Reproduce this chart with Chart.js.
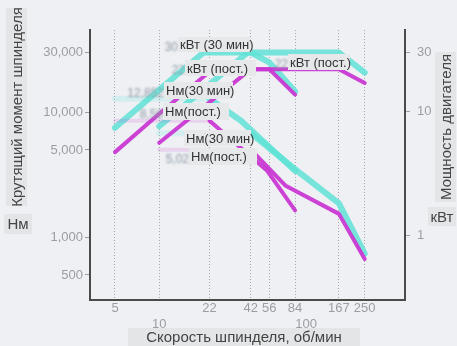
<!DOCTYPE html>
<html>
<head>
<meta charset="utf-8">
<script src="https://cdn.jsdelivr.net/npm/chart.js@4.4.1/dist/chart.umd.min.js"></script>
<style>
  html, body { margin: 0; padding: 0; background: #eef0f3; }
  #wrap { width: 457px; height: 346px; }
</style>
</head>
<body>
<div id="wrap"><canvas id="chart" width="457" height="346"></canvas></div>
<script>
// Axis ticks
const speedTicks = [5, 10, 22, 42, 56, 84, 100, 167, 250];   // об/мин
const torqueTicks = [500, 1000, 5000, 10000, 30000];         // Нм
const powerTicks = [1, 10, 30];                              // кВт

// Torque curves (Нм) against spindle speed (об/мин)
const lowTorque30Speed = [5, 22, 36, 84];
const lowTorque30 = [12852, 12852, 8560, 3400];
const lowTorqueContSpeed = [5, 22, 54, 84];
const lowTorqueCont = [8560, 8560, 3430, 1640];
const highTorque30Speed = [10, 42, 86, 167, 250];
const highTorque30 = [6800, 6800, 3430, 1870, 740];
const highTorqueContSpeed = [10, 42, 72, 167, 250];
const highTorqueCont = [5020, 5020, 2600, 1540, 670];

// Motor power curves (кВт) against spindle speed (об/мин)
const lowPower30Speed = [5, 10, 20, 42, 56, 84];
const lowPower30 = [7.4, 15, 30, 30, 25, 14.5];
const lowPowerContSpeed = [5, 10, 23, 56, 84];
const lowPowerCont = [4.7, 9.6, 22, 22, 13.7];
const highPower30Speed = [10, 40, 167, 250];
const highPower30 = [7.6, 30, 30, 20.6];
const highPowerContSpeed = [10, 42, 167, 250];
const highPowerCont = [5.6, 22, 22, 17];

const FONT = "'Liberation Sans', Arial, sans-serif";
const CYAN = 'rgba(96, 226, 214, 0.85)';
const CYAN_FAINT = 'rgba(96, 226, 214, 0.18)';
const MAGENTA = 'rgba(200, 56, 210, 0.95)';
const MAGENTA_FAINT = 'rgba(200, 56, 210, 0.15)';

const pts = (xs, ys) => xs.map((x, i) => ({ x, y: ys[i] }));

// Torque curves start with a pale constant-torque segment
function curve(xs, ys, axis, color, faintColor) {
  const cyan = color === CYAN;
  return {
    data: pts(xs, ys),
    yAxisID: axis,
    borderColor: color,
    borderWidth: cyan ? 6 : 4,
    order: cyan ? 2 : 1,
    segment: faintColor ? { borderColor: c => c.p0DataIndex === 0 ? faintColor : color } : undefined
  };
}

const datasets = [
  curve(lowPower30Speed, lowPower30, 'y2', CYAN),
  curve(highPower30Speed, highPower30, 'y2', CYAN),
  curve(lowTorque30Speed, lowTorque30, 'y', CYAN, CYAN_FAINT),
  curve(highTorque30Speed, highTorque30, 'y', CYAN, CYAN_FAINT),
  curve(lowPowerContSpeed, lowPowerCont, 'y2', MAGENTA),
  curve(highPowerContSpeed, highPowerCont, 'y2', MAGENTA),
  curve(lowTorqueContSpeed, lowTorqueCont, 'y', MAGENTA, MAGENTA_FAINT),
  curve(highTorqueContSpeed, highTorqueCont, 'y', MAGENTA, MAGENTA_FAINT)
];

// Callout labels inside the plot
const notes = [
  { x: 178, y: 37, w: 74, h: 15, text: 'кВт (30 мин)', pre: '30' },
  { x: 185, y: 60, w: 71, h: 16, text: 'кВт (пост.)', pre: '22' },
  { x: 164, y: 82, w: 69, h: 17, text: 'Нм(30 мин)', pre: '12,852' },
  { x: 163, y: 103, w: 66, h: 17, text: 'Нм(пост.)', pre: '8,56' },
  { x: 288, y: 54, w: 62, h: 16, text: 'кВт (пост.)', pre: '22' },
  { x: 184, y: 130, w: 67, h: 16, text: 'Нм(30 мин)', pre: '' },
  { x: 189, y: 148, w: 68, h: 17, text: 'Нм(пост.)', pre: '5,02' }
];

// Axis captions on grey plates
const captions = [
  { x: 6, y: 8, w: 21, h: 198, text: 'Крутящий момент шпинделя', rot: true },
  { x: 4, y: 214, w: 28, h: 20, text: 'Нм' },
  { x: 435, y: 52, w: 21, h: 150, text: 'Мощность двигателя', rot: true },
  { x: 428, y: 207, w: 28, h: 19, text: 'кВт' },
  { x: 128, y: 328, w: 232, h: 18, text: 'Скорость шпинделя, об/мин' }
];

// Soft edges on the curves
const softLines = {
  id: 'softLines',
  beforeDatasetsDraw(chart) { chart.ctx.save(); chart.ctx.filter = 'blur(0.7px)'; },
  afterDatasetsDraw(chart) { chart.ctx.restore(); }
};

const annotate = {
  id: 'annotate',
  afterDraw(chart) {
    const ctx = chart.ctx;
    ctx.save();
    ctx.textBaseline = 'middle';
    for (const n of notes) {
      if (n.pre) {
        ctx.save();
        ctx.filter = 'blur(0.8px)';
        ctx.fillStyle = '#8f9aa6';
        ctx.font = '12px ' + FONT;
        ctx.textAlign = 'right';
        ctx.fillText(n.pre, n.x, n.y + n.h / 2 + 3);
        ctx.restore();
      }
      ctx.fillStyle = '#e7e8ea';
      ctx.fillRect(n.x, n.y, n.w, n.h);
      ctx.fillStyle = '#333';
      ctx.font = '13px ' + FONT;
      ctx.textAlign = 'left';
      ctx.fillText(n.text, n.x + 2, n.y + n.h / 2 + 1);
    }
    for (const c of captions) {
      ctx.fillStyle = '#e4e5e7';
      ctx.fillRect(c.x, c.y, c.w, c.h);
      ctx.fillStyle = '#444';
      ctx.font = '15px ' + FONT;
      ctx.textAlign = 'center';
      if (c.rot) {
        ctx.save();
        ctx.translate(c.x + c.w / 2 + 1, c.y + c.h / 2);
        ctx.rotate(-Math.PI / 2);
        ctx.fillText(c.text, 0, 0);
        ctx.restore();
      } else {
        ctx.fillText(c.text, c.x + c.w / 2, c.y + c.h / 2 + 1);
      }
    }
    ctx.restore();
  }
};

const tickFont = { family: FONT, size: 13 };
const fmt = v => Number(v).toLocaleString('en-US');

new Chart(document.getElementById('chart'), {
  type: 'line',
  data: { datasets },
  options: {
    responsive: false,
    animation: false,
    layout: { padding: { top: 30, left: 0, right: 0, bottom: 0 } },
    plugins: { legend: { display: false }, tooltip: { enabled: false } },
    elements: {
      point: { radius: 0 },
      line: { tension: 0, borderCapStyle: 'round', borderJoinStyle: 'round' }
    },
    scales: {
      x: {
        type: 'logarithmic',
        min: 3.38,
        max: 470,
        afterBuildTicks: s => { s.ticks = speedTicks.map(v => ({ value: v })); },
        afterFit: s => { s.height = 46; },
        ticks: {
          autoSkip: false,
          maxRotation: 0,
          padding: 1,
          color: '#9a9ea3',
          font: { family: FONT, size: 13, lineHeight: 1.2 },
          callback: v => (v === 10 || v === 100) ? ['', String(v)] : String(v)
        },
        grid: {
          drawTicks: false,
          color: c => (c.tick && c.tick.value === 100) ? 'rgba(0,0,0,0)' : '#a4a7ab',
          lineWidth: 1
        },
        border: { display: true, color: '#4a4a4a', width: 2, dash: [1, 2] }
      },
      y: {
        type: 'logarithmic',
        position: 'left',
        min: 315,
        max: 45600,
        afterBuildTicks: s => { s.ticks = torqueTicks.map(v => ({ value: v })); },
        afterFit: s => { s.width = 90; },
        ticks: { autoSkip: false, color: '#9a9ea3', font: tickFont, padding: 2, callback: v => fmt(v) },
        grid: { drawOnChartArea: false, drawTicks: true, tickLength: 5, color: '#9a9ea3' },
        border: { display: true, color: '#4a4a4a', width: 2 }
      },
      y2: {
        type: 'logarithmic',
        position: 'right',
        min: 0.315,
        max: 45.6,
        afterBuildTicks: s => { s.ticks = powerTicks.map(v => ({ value: v })); },
        afterFit: s => { s.width = 52; },
        ticks: { autoSkip: false, color: '#9a9ea3', font: tickFont, padding: 7, callback: v => String(v) },
        grid: { drawOnChartArea: false, drawTicks: true, tickLength: 5, color: '#9a9ea3' },
        border: { display: true, color: '#4a4a4a', width: 2 }
      }
    }
  },
  plugins: [softLines, annotate]
});
</script>
</body>
</html>
